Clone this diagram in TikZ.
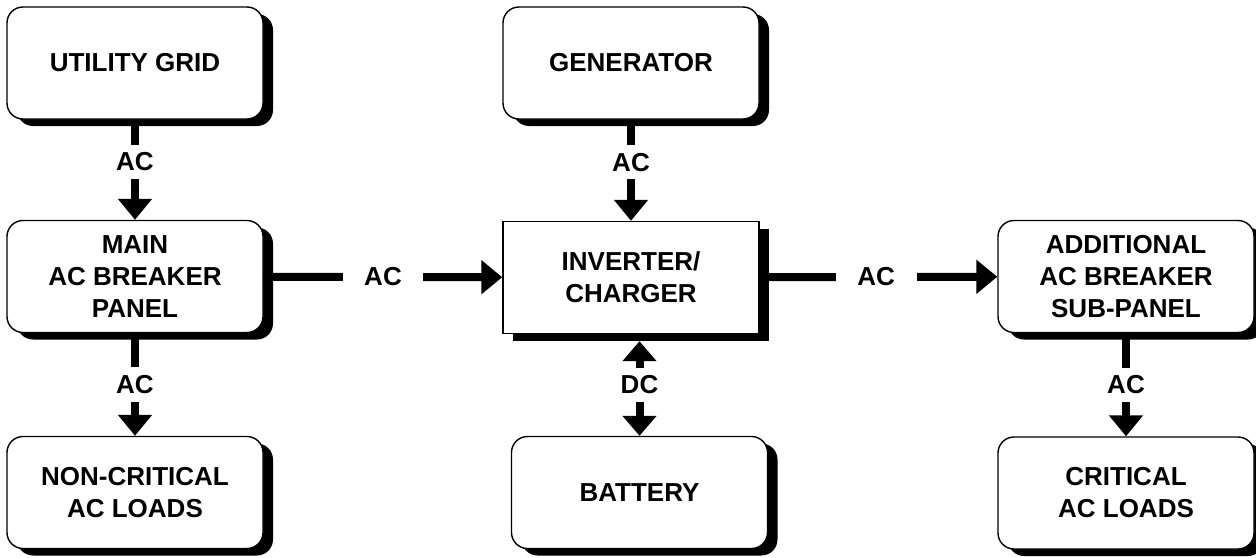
\documentclass[tikz,border=0pt]{standalone}
\usepackage{fontspec}
\setmainfont{Liberation Sans}
\usetikzlibrary{arrows.meta,shadows}

\begin{document}
\begin{tikzpicture}[x=0.5pt,y=-0.5pt,
		box/.style={draw,line width=0.7pt,fill=white,rounded corners=8pt,minimum width=128pt,minimum height=56pt,align=center,font=\fontsize{13}{16}\selectfont\bfseries,drop shadow={shadow xshift=5pt,shadow yshift=-3.5pt,fill=black,opacity=1}},
		plainbox/.style={box,sharp corners},
		feed/.style={line width=4pt,-{Triangle[width=16.5pt,length=10.5pt]}},
		dcfeed/.style={line width=4pt,{Triangle[width=16.5pt,length=10pt]}-{Triangle[width=16.5pt,length=10pt]}},
		vlabel/.style={fill=white,inner xsep=2pt,inner ysep=4pt,font=\fontsize{13}{16}\selectfont\bfseries},
		hlabel/.style={fill=white,inner xsep=10.8pt,inner ysep=2pt,font=\fontsize{13}{16}\selectfont\bfseries}]
		\useasboundingbox (0,0) rectangle (1256,557);
		\node (grid) [box] at (135,63) {UTILITY GRID};
		\node (main) [box] at (135,276.5) {MAIN\\AC BREAKER\\PANEL};
		\node (noncrit) [box] at (135,492.5) {NON-CRITICAL\\AC LOADS};
		\node (gen) [box] at (631,63) {GENERATOR};
		\node (inv) [plainbox] at (631,277.5) {INVERTER/\\CHARGER};
		\node (bat) [box] at (639.5,492.5) {BATTERY};
		\node (sub) [box] at (1126,276.5) {ADDITIONAL\\AC BREAKER\\SUB-PANEL};
		\node (crit) [box] at (1126,493) {CRITICAL\\AC LOADS};
		\draw [feed] (grid) -- node [vlabel,pos=0.42] {AC} (main);
		\draw [feed] (main) -- node [vlabel] {AC} (noncrit);
		\draw [feed] (gen) -- node [vlabel,pos=0.42] {AC} (inv);
		\draw [feed] (main) -- node [hlabel] {AC} (inv);
		\draw [feed] (inv) -- node [hlabel,pos=0.49] {AC} (sub);
		\draw [dcfeed,shorten <=3.5pt] (bat.north |- inv.south) -- node [vlabel] {DC} (bat.north);
		\draw [feed] (sub) -- node [vlabel] {AC} (crit);
	\end{tikzpicture}
\end{document}
